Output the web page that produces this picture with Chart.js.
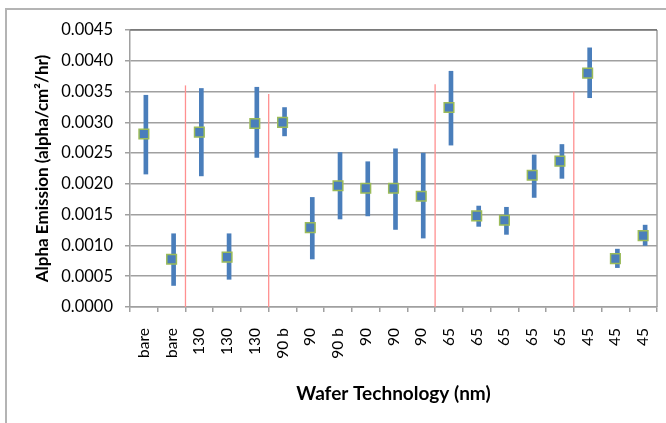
<!DOCTYPE html>
<html>
<head>
<meta charset="utf-8">
<script src="https://cdn.jsdelivr.net/npm/chart.js@4"></script>
<style>
  html, body { margin: 0; padding: 0; background: #fff; overflow: hidden; }
  #wrap { position: relative; width: 666px; height: 423px; }
  #frame { position: absolute; left: 5px; top: 8px; width: 700px; height: 450px;
           border: 2px solid #b4b4b4; pointer-events: none; }
</style>
</head>
<body>
<div id="wrap">
  <canvas id="alphaChart" width="666" height="423"></canvas>
  <div id="frame"></div>
</div>
<script>
// categories (wafer technology)
const waferLabels = ["bare", "bare", "130", "130", "130", "90 b", "90", "90 b", "90", "90", "90",
                     "65", "65", "65", "65", "65", "45", "45", "45"];
// mean alpha emission
const emission = [0.00281, 0.000775, 0.00284, 0.00081, 0.00298, 0.00300, 0.00129, 0.00197, 0.00193,
                  0.00193, 0.00180, 0.00324, 0.00148, 0.00141, 0.00214, 0.00237, 0.00380, 0.000785, 0.00116];
// error bar ends
const errLow  = [0.00216, 0.00035, 0.00213, 0.00045, 0.00243, 0.00278, 0.00078, 0.00143, 0.00148,
                 0.00126, 0.00112, 0.00263, 0.00131, 0.00118, 0.00178, 0.00209, 0.00340, 0.00064, 0.00100];
const errHigh = [0.00344, 0.00119, 0.00355, 0.00119, 0.00357, 0.00324, 0.00178, 0.00251, 0.00236,
                 0.00257, 0.00250, 0.00383, 0.00164, 0.00162, 0.00247, 0.00264, 0.00421, 0.00094, 0.00133];
// red separators between technology groups (position between categories, top value)
const sepPos = [1.5, 4.5, 10.5, 15.5];
const sepTop = [0.00360, 0.00346, 0.00362, 0.00350];
const yTicks = [0, 0.0005, 0.001, 0.0015, 0.002, 0.0025, 0.003, 0.0035, 0.004, 0.0045];

const FONT = "Lato, 'Open Sans', sans-serif";

const datasets = [];
sepPos.forEach((p, i) => {
    datasets.push({
        type: 'line',
        xAxisID: 'xl',
        order: 3,
        data: [{x: p, y: 0}, {x: p, y: sepTop[i]}],
        borderColor: '#ff9090',
        borderWidth: 1.3,
        pointRadius: 0,
        fill: false
    });
});
// error bars as floating bars
datasets.push({
    type: 'bar',
    order: 2,
    data: errLow.map((lo, i) => [lo, errHigh[i]]),
    backgroundColor: '#4a7ebb',
    borderWidth: 0,
    barThickness: 4,
    borderSkipped: false
});
// markers
datasets.push({
    type: 'line',
    order: 1,
    data: emission,
    showLine: false,
    pointStyle: 'rect',
    pointRadius: 6.8,
    pointBackgroundColor: '#4a7ebb',
    pointBorderColor: '#9bbb59',
    pointBorderWidth: 1.5
});

const plotFrame = {
    id: 'plotFrame',
    afterDraw(chart) {
        const a = chart.chartArea, c = chart.ctx;
        c.save();
        c.strokeStyle = '#a0a0a0';
        c.lineWidth = 1.5;
        c.beginPath();
        c.moveTo(a.right, a.top);
        c.lineTo(a.right, a.bottom);
        c.stroke();
        c.strokeStyle = '#555';
        c.lineWidth = 1.2;
        c.beginPath();
        c.moveTo(a.left, a.top);
        c.lineTo(a.right, a.top);
        c.stroke();
        c.restore();
    }
};

new Chart(document.getElementById('alphaChart'), {
    data: { labels: waferLabels, datasets: datasets },
    options: {
        responsive: false,
        animation: false,
        layout: { padding: { left: 0, right: 9, top: 30, bottom: 0 } },
        plugins: { legend: { display: false }, tooltip: { enabled: false } },
        scales: {
            x: {
                type: 'category',
                offset: true,
                grid: { offset: true, drawOnChartArea: false, tickLength: 5, color: '#a0a0a0', lineWidth: 1.5 },
                border: { color: '#a0a0a0', width: 1.5 },
                ticks: { minRotation: 90, maxRotation: 90, padding: 16, color: '#000', autoSkip: false,
                         font: { family: FONT, size: 15.5 } },
                title: { display: true, text: 'Wafer Technology (nm)', color: '#000',
                         font: { family: FONT, size: 19, weight: 'bold' }, padding: { top: 0, bottom: 18 } },
                afterFit(s) { s.height = 116; s.paddingLeft = 0; s.paddingRight = 0; }
            },
            xl: { type: 'linear', display: false, min: -0.5, max: waferLabels.length - 0.5 },
            y: {
                min: 0,
                max: 0.0045,
                afterBuildTicks(s) { s.ticks = yTicks.map(v => ({ value: v })); },
                grid: { color: '#a0a0a0', lineWidth: 1.5, tickLength: 5 },
                border: { color: '#a0a0a0', width: 1.5 },
                ticks: { padding: 12, color: '#000', font: { family: FONT, size: 16.5 },
                         callback: v => v.toFixed(4) },
                title: { display: true, text: 'Alpha Emission (alpha/cm\u00b2/hr)', color: '#000',
                         font: { family: FONT, size: 17, weight: 'bold' }, padding: { top: 32, bottom: 0 } },
                afterFit(s) { s.width = 130; }
            }
        }
    },
    plugins: [plotFrame]
});
</script>
</body>
</html>
